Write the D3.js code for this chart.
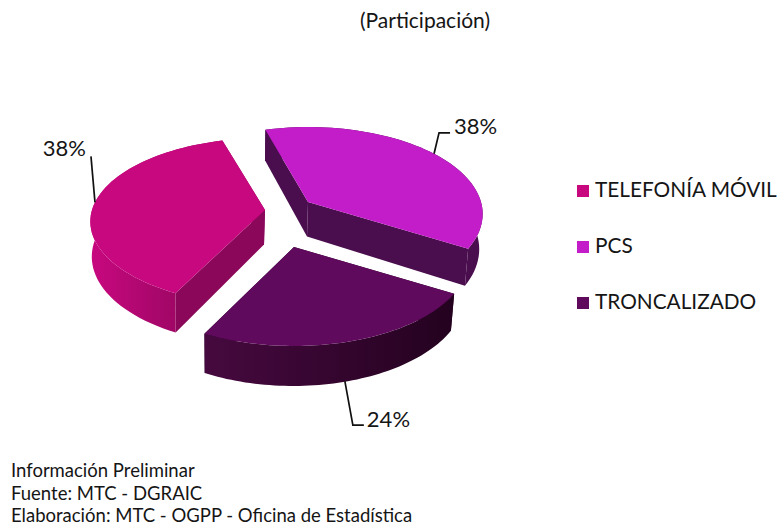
<!DOCTYPE html>
<html>
<head>
<meta charset="utf-8">
<script src="https://cdn.jsdelivr.net/npm/d3@7"></script>
<style>
  html, body { margin: 0; padding: 0; background: #fff; }
  svg { display: block; }
  text { font-family: Lato, "Open Sans", sans-serif; fill: #151515; }
</style>
</head>
<body>
<svg id="chart" width="778" height="525"></svg>
<script>
const categories = ["TELEFONÍA MÓVIL", "PCS", "TRONCALIZADO"];
const shares = [38, 38, 24];
const shareLabels = ["38%", "38%", "24%"];
const notes = [
  "Información Preliminar",
  "Fuente: MTC - DGRAIC",
  "Elaboración: MTC - OGPP - Oficina de Estadística",
];

// styling, one entry per slice
const topColors = ["#c7087f", "#c21dc8", "#5f0a5d"];
const faceColors = ["#8a0759", "#4a0e4e", "#2a0326"];
const wallStops = [
  ["#c8087f", "#8a0658"],
  ["#4a0e4e", "#4a0e4e"],
  ["#46093f", "#24021f"],
];

// pie tilt and perspective
const radiusX = 173;
const radiusY = 85.3;
const perspective = 0.138;
const depth = 34.5;
const firstAngle = (207 * Math.PI) / 180;

// where each exploded slice has its tip, how flat it is drawn, how its leader is bent
const sliceTips = [
  [265, 210],
  [308, 202],
  [294, 247],
];
const sliceSquash = [0.96, 1, 1];
const leaderShift = [0, 0, -3];
const leaderBends = [
  [[-4, -46]],
  [[5, -21], [16, -21]],
  [[8, 44], [19, 44]],
];
const labelSpots = [
  { dx: -5, dy: 0, anchor: "end" },
  { dx: 4, dy: 1, anchor: "start" },
  { dx: 3, dy: 2, anchor: "start" },
];

const svg = d3.select("#chart");
const defs = svg.append("defs");

const color = d3.scaleOrdinal().domain(categories).range(topColors);

const pie = d3
  .pie()
  .sort(null)
  .startAngle(firstAngle)
  .endAngle(firstAngle + 2 * Math.PI);
const slices = pie(shares);

// disc angle + height -> pixel, relative to the slice tip
function project(angle, radius, z, i) {
  const px = Math.sin(angle) * radius;
  const py = -Math.cos(angle) * radius;
  const s = 1 / (1 - perspective * py);
  const shrink = 1 - 0.014 * z;
  return [
    radiusX * px * s * shrink - z,
    radiusY * sliceSquash[i] * py * s + depth * z * s,
  ];
}

const line = d3.line();

function arcPoints(d, z, i) {
  return d3
    .range(0, 61)
    .map((j) =>
      project(d.startAngle + ((d.endAngle - d.startAngle) * j) / 60, 1, z, i)
    );
}

slices.forEach((d, i) => {
  const g = svg
    .append("g")
    .attr("transform", `translate(${sliceTips[i][0]},${sliceTips[i][1]})`);

  const top = arcPoints(d, 0, i);
  const bottom = arcPoints(d, 1, i);
  const tipTop = project(0, 0, 0, i);
  const tipBottom = project(0, 0, 1, i);

  // flat cut faces
  [
    [tipTop, top[0], bottom[0], tipBottom],
    [tipTop, top[60], bottom[60], tipBottom],
  ].forEach((face) => {
    g.append("path")
      .attr("d", line(face) + "Z")
      .attr("fill", faceColors[i]);
  });

  // rounded wall
  const xs = top.map((p) => p[0]);
  const gradId = "wall" + i;
  const grad = defs
    .append("linearGradient")
    .attr("id", gradId)
    .attr("gradientUnits", "userSpaceOnUse")
    .attr("x1", d3.min(xs))
    .attr("x2", d3.max(xs))
    .attr("y1", 0)
    .attr("y2", 0);
  grad.selectAll("stop")
    .data(wallStops[i])
    .enter()
    .append("stop")
    .attr("offset", (c, j) => j)
    .attr("stop-color", (c) => c);

  g.append("path")
    .attr("d", line(top.concat(bottom.slice().reverse())) + "Z")
    .attr("fill", `url(#${gradId})`);

  g.append("path")
    .attr("d", line([tipTop].concat(top)) + "Z")
    .attr("fill", color(categories[i]));
});

// leaders and value labels
slices.forEach((d, i) => {
  const mid = (d.startAngle + d.endAngle) / 2;
  const z = i === 2 ? 1 : 0;
  const p = project(mid, 1, z, i);
  const start = [sliceTips[i][0] + p[0] + leaderShift[i], sliceTips[i][1] + p[1]];
  const points = [start].concat(
    leaderBends[i].map((b) => [start[0] + b[0], start[1] + b[1]])
  );
  svg
    .append("path")
    .attr("d", line(points))
    .attr("fill", "none")
    .attr("stroke", "#111")
    .attr("stroke-width", 1.7);

  const end = points[points.length - 1];
  svg
    .append("text")
    .attr("x", end[0] + labelSpots[i].dx)
    .attr("y", end[1] + labelSpots[i].dy)
    .attr("text-anchor", labelSpots[i].anchor)
    .style("font-size", "22px")
    .text(shareLabels[i]);
});

// legend
const legendY = d3.scalePoint().domain(categories).range([197, 309]);

categories.forEach((c) => {
  svg
    .append("rect")
    .attr("x", 577)
    .attr("y", legendY(c) - 12)
    .attr("width", 12)
    .attr("height", 12)
    .attr("fill", color(c));
  svg
    .append("text")
    .attr("x", 595)
    .attr("y", legendY(c))
    .style("font-size", "20.8px")
    .text(c);
});

svg
  .append("text")
  .attr("x", 425)
  .attr("y", 28)
  .attr("text-anchor", "middle")
  .style("font-size", "21px")
  .text("(Participación)");

notes.forEach((n, i) => {
  svg
    .append("text")
    .attr("x", 11)
    .attr("y", 477 + i * 22.5)
    .style("font-size", "18.5px")
    .text(n);
});
</script>
</body>
</html>
